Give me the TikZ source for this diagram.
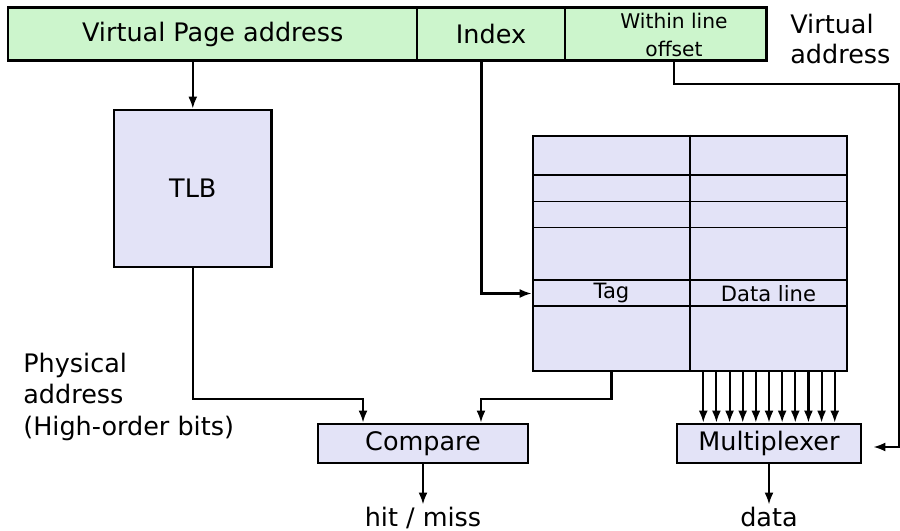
\documentclass[tikz,border=0pt]{standalone}
\usepackage{fontspec}
\setmainfont{DejaVu Sans}
\usetikzlibrary{arrows.meta}

\definecolor{fieldgreen}{RGB}{204,245,204}
\definecolor{unitblue}{RGB}{227,227,247}

\begin{document}
\begin{tikzpicture}[x=0.02cm, y=-0.02cm, >={Latex[length=2.4mm,width=1.8mm]},
	every node/.style={font=\fontsize{14.5}{17.5}\selectfont},
	small/.style={font=\fontsize{11.5}{15.5}\selectfont},
	field/.style={draw, fill=fieldgreen, line width=0.8pt, minimum height=1.04cm, inner sep=0pt},
	unit/.style={draw, fill=unitblue, line width=1.6pt, inner sep=0pt},
	wire/.style={line width=1.2pt}]
	\useasboundingbox (0,0) rectangle (900,531);

	% virtual address fields
	\node[field, minimum width=8.17cm] (vpa) at (212.7,34) {Virtual Page address};
	\node[field, minimum width=2.96cm] (idx) at (491,34) {Index};
	\node[field, minimum width=4.02cm] (off) at (665.5,34) {};
	\node[small, align=center] (offtxt) at (674,35) {Within line\\offset};
	\draw[line width=1.4pt] (vpa.north west) rectangle (off.south east);
	\node[anchor=north west, align=left, inner sep=0pt] (vaddr) at (790,13.5) {Virtual\\address};

	% TLB and cache
	\node[unit, minimum width=3.15cm, minimum height=3.14cm] (tlb) at (192.8,188.5) {TLB};
	\node[unit, minimum width=6.28cm, minimum height=4.7cm] (cache) at (690,253.5) {};
	\foreach \y in {175,201.5,227.5,280,306}
		\draw[line width=0.8pt] (534,\y) -- (846,\y);
	\draw[line width=0.8pt] (cache.north) -- (cache.south);
	\node[font=\fontsize{12}{14}\selectfont] (tag) at (611.5,293.5) {Tag};
	\node[font=\fontsize{12}{14}\selectfont] (dline) at (768.5,293.5) {Data line};

	% compare and multiplexer
	\node[unit, minimum width=4.2cm, minimum height=0.78cm] (cmp) at (423,443.5) {Compare};
	\node[unit, minimum width=3.68cm, minimum height=0.78cm] (mux) at (769,443.5) {Multiplexer};
	\node[anchor=base, inner sep=1pt] (hm) at (423,526) {hit / miss};
	\node[anchor=base, inner sep=1pt] (data) at (769,526) {data};
	\node[anchor=north west, align=left, inner sep=0pt,
		font=\fontsize{14.5}{17.9}\selectfont] (paddr) at (23,352.5)
		{Physical\\address\\(High-order bits)};

	% connections
	\draw[wire,->] (vpa.south -| tlb.north) -- (tlb.north);
	\draw[wire,->] ([xshift=-0.19cm]idx.south) |- (cache.west |- tag);
	\draw[wire,->] (tlb.south) -- ++(0,131) -| ([xshift=-1.2cm]cmp.north);
	\draw[wire,->] (tag |- cache.south) -- ++(0,27) -| ([xshift=1.16cm]cmp.north);
	\foreach \i in {-5,...,5}{
		\coordinate (tap) at ([xshift=\i*0.263cm]mux.north);
		\draw[wire,->] (tap |- cache.south) -- (tap);
	}
	\coordinate (muxin) at ([xshift=0.22cm,yshift=-0.07cm]mux.east);
	\draw[wire,->] (offtxt |- off.south) |- (899,84) |- (muxin);
	\draw[wire,->] (cmp.south) -- (hm.north);
	\draw[wire,->] (mux.south) -- (data.north);
\end{tikzpicture}
\end{document}
